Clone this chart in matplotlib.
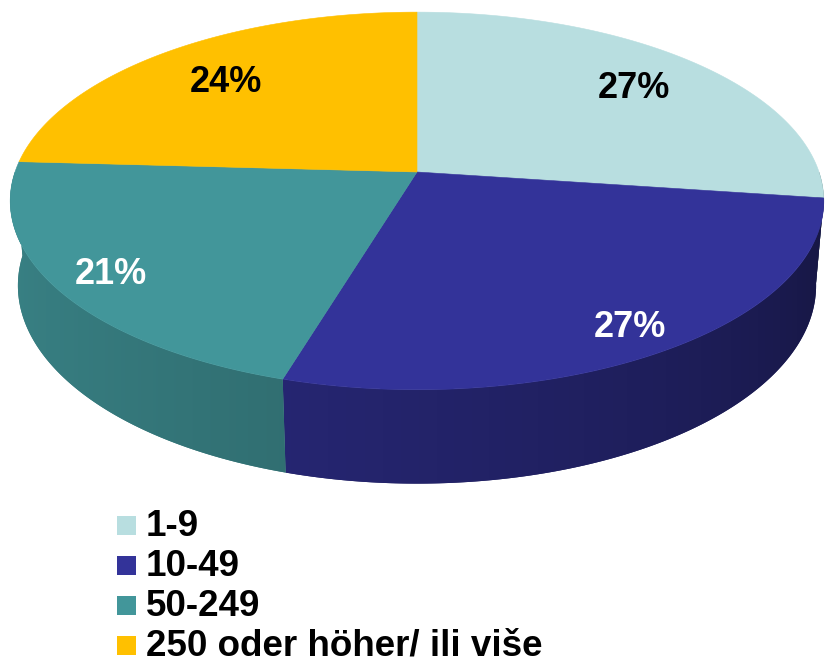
import numpy as np
import matplotlib
matplotlib.use("Agg")
import matplotlib.pyplot as plt
from matplotlib.patches import Polygon, Rectangle

# --- data -------------------------------------------------------------------
categories = ["1-9", "10-49", "50-249", "250 oder höher/ ili više"]
shares = [27.2, 27.4, 21.3, 24.1]          # percent
top_colors = ["#B8DEE0", "#333399", "#42969A", "#FFC000"]
label_colors = ["black", "white", "white", "black"]
label_radius = [0.77, 0.87, 0.86, 0.75]

# --- camera (pixel space, y down) -------------------------------------------
CX, CY = 417, 172
SCALE = 402.0
TILT = np.radians(27.3)
DIST = 5.8
DEPTH = 0.239
FONT = "Liberation Sans"


def project(x, y, z):
    w = 1 + (np.cos(TILT) * y - np.sin(TILT) * z) / DIST
    return (CX + SCALE * x / w,
            CY - SCALE * (np.sin(TILT) * y + np.cos(TILT) * z) / w)


def side_shade(t_deg):
    # light from the left: side walls get darker toward the right
    f = np.clip((t_deg + 180) / 180, 0, 1)
    return 0.86 - 0.44 * f ** 1.4


fig = plt.figure(figsize=(8.25, 6.63), dpi=100)
ax = fig.add_axes([0, 0, 1, 1])
ax.set_xlim(0, 825)
ax.set_ylim(663, 0)
ax.axis("off")

fracs = np.array(shares) / np.sum(shares)
cum = np.concatenate([[0], np.cumsum(fracs)])
starts = 90 - 360 * cum[:-1]   # clockwise from 12 o'clock
ends = 90 - 360 * cum[1:]

# side walls (front half only), one polygon each with a horizontal gradient
for i in range(len(shares)):
    lo, hi = max(ends[i], -180), min(starts[i], 0)
    if hi <= lo:
        continue
    tt = np.radians(np.linspace(lo, hi, 200))
    xt, yt = project(np.cos(tt), np.sin(tt), 0)
    xb, yb = project(np.cos(tt), np.sin(tt), -DEPTH)
    pts = list(zip(xt, yt)) + list(zip(xb[::-1], yb[::-1]))
    rgb = np.array(matplotlib.colors.to_rgb(top_colors[i]))
    mid_col = rgb * side_shade(np.degrees(tt).mean())
    poly = Polygon(pts, closed=True, facecolor=mid_col, edgecolor="none")
    ax.add_patch(poly)
    x0, x1 = min(xt.min(), xb.min()) - 2, max(xt.max(), xb.max()) + 2
    y0, y1 = min(yt.min(), yb.min()) - 2, max(yt.max(), yb.max()) + 2
    gx = np.linspace(x0, x1, 300)
    gt = -np.degrees(np.arccos(np.clip((gx - CX) / 407.0, -1, 1)))
    grad = np.clip(rgb[None, :] * side_shade(gt)[:, None], 0, 1)[None, :, :]
    im = ax.imshow(grad, extent=(x0, x1, y1, y0), aspect="auto",
                   interpolation="bilinear", zorder=1)
    im.set_clip_path(poly)

# top faces
for i in range(len(shares)):
    tt = np.radians(np.linspace(starts[i], ends[i], 300))
    px, py = project(np.cos(tt), np.sin(tt), 0)
    cx, cy = project(0.0, 0.0, 0.0)
    pts = [(cx, cy)] + list(zip(px, py))
    ax.add_patch(Polygon(pts, closed=True, facecolor=top_colors[i],
                         edgecolor=top_colors[i], lw=0.4, zorder=2))

# percentage labels
lab_px = 26 * 100 / 72
for i in range(len(shares)):
    mid = np.radians((starts[i] + ends[i]) / 2)
    r = label_radius[i]
    lx, ly = project(r * np.cos(mid), r * np.sin(mid), 0)
    ax.text(lx, ly + 0.358 * lab_px, f"{shares[i]:.0f}%", ha="center",
            va="baseline", fontsize=26, fontweight="bold", family=FONT,
            color=label_colors[i], zorder=3)

# legend
for i, name in enumerate(categories):
    base = 536 + 40 * i
    ax.add_patch(Rectangle((117, base - 20), 19, 19, facecolor=top_colors[i],
                           edgecolor="none"))
    ax.text(146, base, name, ha="left", va="baseline", fontsize=26.5,
            fontweight="bold", family=FONT, color="black")

fig.savefig("out.png", dpi=100)
